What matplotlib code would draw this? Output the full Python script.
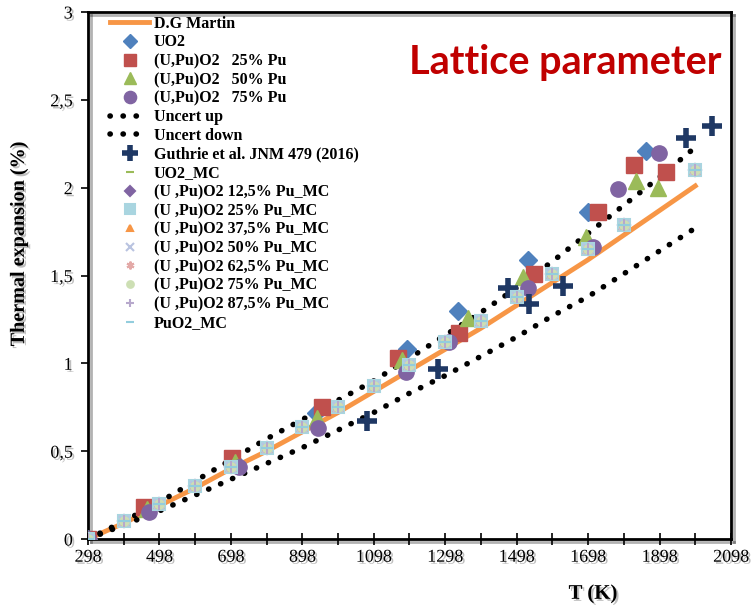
import matplotlib
matplotlib.use("Agg")
import matplotlib.pyplot as plt
import matplotlib.patheffects as pe
from matplotlib.ticker import FixedLocator, FuncFormatter

# Data
T_CURVE = [298, 398, 498, 598, 698, 798, 898, 998, 1098, 1198, 1298, 1398,
           1498, 1598, 1698, 1798, 1898, 1998]
martin = [0, 0.09, 0.19, 0.29, 0.40, 0.50, 0.61, 0.72, 0.84, 0.96, 1.08, 1.20,
          1.33, 1.46, 1.59, 1.73, 1.87, 2.01]
uncert_up = [0, 0.10, 0.21, 0.33, 0.45, 0.57, 0.68, 0.79, 0.90, 1.03, 1.16, 1.29,
             1.43, 1.58, 1.74, 1.90, 2.06, 2.23]
uncert_down = [0, 0.08, 0.16, 0.25, 0.34, 0.43, 0.52, 0.62, 0.72, 0.83, 0.93, 1.04,
               1.15, 1.27, 1.38, 1.51, 1.64, 1.77]

uo2_T = [298, 460, 705, 935, 1192, 1333, 1529, 1697, 1860]
uo2_y = [0, 0.17, 0.45, 0.72, 1.08, 1.30, 1.59, 1.86, 2.21]
pu25_T = [298, 455, 702, 954, 1167, 1336, 1546, 1725, 1826, 1916]
pu25_y = [0, 0.18, 0.46, 0.75, 1.03, 1.17, 1.51, 1.86, 2.13, 2.09]
pu50_T = [298, 462, 710, 940, 1178, 1361, 1515, 1691, 1831, 1893]
pu50_y = [0, 0.17, 0.44, 0.69, 1.02, 1.26, 1.49, 1.72, 2.04, 2.00]
pu75_T = [298, 469, 721, 943, 1187, 1308, 1529, 1711, 1781, 1896]
pu75_y = [0, 0.155, 0.41, 0.63, 0.95, 1.12, 1.43, 1.66, 1.99, 2.20]
guthrie_T = [1078, 1277, 1473, 1532, 1627, 1972, 2045]
guthrie_y = [0.67, 0.97, 1.43, 1.34, 1.44, 2.28, 2.35]

mc_T = [298, 398, 498, 598, 698, 798, 898, 998, 1098, 1198, 1298, 1398, 1498,
        1598, 1698, 1798, 1998]
mc_y = [0, 0.10, 0.20, 0.30, 0.41, 0.52, 0.64, 0.75, 0.87, 0.99, 1.12, 1.24,
        1.38, 1.51, 1.65, 1.79, 2.10]

mc_labels = ["UO2_MC", "(U ,Pu)O2 12,5% Pu_MC", "(U ,Pu)O2 25% Pu_MC",
             "(U ,Pu)O2 37,5% Pu_MC", "(U ,Pu)O2 50% Pu_MC",
             "(U ,Pu)O2 62,5% Pu_MC", "(U ,Pu)O2 75% Pu_MC",
             "(U ,Pu)O2 87,5% Pu_MC", "PuO2_MC"]
mc_markers = ["_", "D", "s", "^", "x", (6, 2, 0), "o", "+", "_"]
mc_colors = ["#9bbb59", "#8064a2", "#a9d5e0", "#f79646", "#b9c3e0",
             "#e3a9a7", "#cddfb4", "#b7a8cc", "#93cddd"]
mc_sizes = [8, 6, 8.5, 6, 7, 7, 6, 8, 8]

SERIF = "Liberation Serif"
shadow = [pe.SimplePatchShadow(offset=(1.5, -1.5), alpha=0.25), pe.Normal()]
DOTS = (0, (0.05, 2.3))

fig = plt.figure(figsize=(7.51, 6.05), dpi=100)
ax = fig.add_axes([88 / 751, 66 / 605, 643 / 751, 527 / 605])

ax.plot(T_CURVE, martin, color="#f79646", lw=3.5, label="D.G Martin", zorder=3)
ax.plot(uo2_T, uo2_y, ls="none", marker="D", ms=9, color="#4f81bd", label="UO2", zorder=4)
ax.plot(pu25_T, pu25_y, ls="none", marker="s", ms=11, color="#c0504d",
        label="(U,Pu)O2   25% Pu", zorder=4)
ax.plot(pu50_T, pu50_y, ls="none", marker="^", ms=11, color="#9bbb59",
        label="(U,Pu)O2   50% Pu", zorder=4)
ax.plot(pu75_T, pu75_y, ls="none", marker="o", ms=11, color="#8064a2",
        label="(U,Pu)O2   75% Pu", zorder=4)
ax.plot(T_CURVE, uncert_up, color="black", lw=4, ls=DOTS,
        dash_capstyle="round", label="Uncert up", zorder=3)
ax.plot(T_CURVE, uncert_down, color="black", lw=4, ls=DOTS,
        dash_capstyle="round", label="Uncert down", zorder=3)
ax.plot(guthrie_T, guthrie_y, ls="none", marker="+", ms=14, mew=4, color="#1f3864",
        label="Guthrie et al. JNM 479 (2016)", zorder=4)

for lab, mk, col, sz in zip(mc_labels, mc_markers, mc_colors, mc_sizes):
    ax.plot(mc_T, mc_y, ls="none", marker=mk, ms=sz, color=col, mec=col,
            mew=1.5, label=lab, zorder=5)

ax.set_xlim(298, 2098)
ax.set_ylim(0, 3)
ax.xaxis.set_major_locator(FixedLocator(list(range(298, 2099, 200))))
ax.xaxis.set_minor_locator(FixedLocator(list(range(398, 2099, 200))))
ax.yaxis.set_major_locator(FixedLocator([0, 0.5, 1, 1.5, 2, 2.5, 3]))
ax.yaxis.set_major_formatter(FuncFormatter(lambda v, p: f"{v:g}".replace(".", ",")))
ax.tick_params(axis="x", which="both", direction="inout", length=8, width=1.2,
               labelsize=13, pad=3)
ax.tick_params(axis="y", direction="out", length=5, width=1.2, labelsize=13, pad=6)
for lbl in ax.get_xticklabels() + ax.get_yticklabels():
    lbl.set_fontfamily(SERIF)
    lbl.set_path_effects(shadow)

for sp in ax.spines.values():
    sp.set_linewidth(2)
    sp.set_path_effects([pe.SimpleLineShadow(offset=(2, -2), alpha=0.3), pe.Normal()])

ax.set_ylabel("Thermal expansion (%)", fontfamily=SERIF, fontweight="bold",
              fontsize=14.5, path_effects=shadow)
ax.yaxis.set_label_coords(-0.092, 0.56)
ax.set_xlabel("T (K)", fontfamily=SERIF, fontweight="bold", fontsize=15,
              path_effects=shadow)
ax.xaxis.set_label_coords((593 - 88) / 643, -0.085)

ax.text(0.985, 0.905, "Lattice parameter", transform=ax.transAxes, ha="right",
        va="center", color="#c00000", fontsize=28.5, fontweight="bold",
        fontfamily="Lato")

leg = ax.legend(loc="upper left", bbox_to_anchor=(0.025, 1.005), frameon=False,
                prop={"family": SERIF, "weight": "bold", "size": 11.5},
                handlelength=2.4, handletextpad=0.3, labelspacing=0.17,
                borderaxespad=0.0, numpoints=1, markerscale=0.8)

fig.savefig("out.png", dpi=100)
